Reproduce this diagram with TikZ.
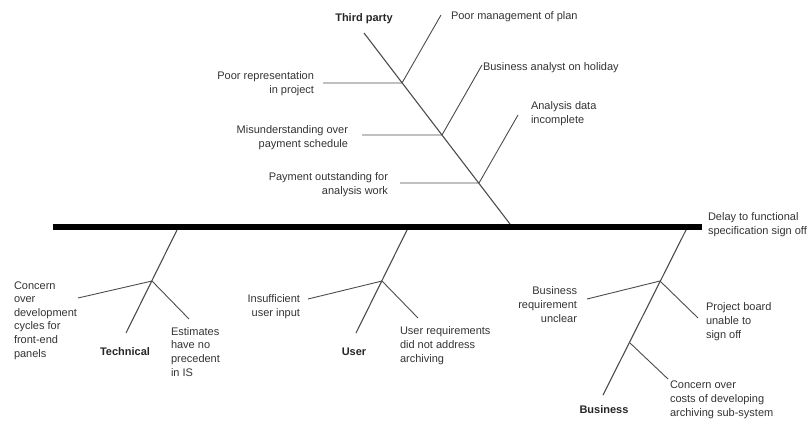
\documentclass[tikz,border=0pt]{standalone}
\usepackage{fontspec}
\setmainfont{Liberation Sans}
\begin{document}
\begin{tikzpicture}[x=1pt,y=-1pt,
  every node/.style={inner sep=0pt,outer sep=0pt,text=black!80,
    font=\fontsize{11}{13.6}\selectfont},
  bone/.style={draw=black!70,line width=1.1pt},
  twig/.style={draw=black!70,line width=0.9pt},
  spine/.style={draw=black,line width=6.5pt},
  cat/.style={font=\fontsize{11}{13.6}\selectfont\bfseries,text=black!85},
  cause/.style={align=left,anchor=base west},
  rcause/.style={align=right,anchor=base east}]
\useasboundingbox (0,0) rectangle (810,424);
% note: multi-line nodes are placed by the baseline of their last line

% spine and effect
\coordinate (s0) at (53,227);
\coordinate (s1) at (702,227);
\draw[spine] (s0) -- (s1);
\node[cause] (effect) at (708,234) {Delay to functional\\specification sign off};

% ---- Third party ----
\coordinate (tpA) at (364,33);
\coordinate (tpB) at (510,224);
\node[cat,anchor=base] (tp) at (364,21) {Third party};
\draw[bone] (tpA) -- (tpB);
\coordinate (tj1) at (402,83);
\coordinate (tj2) at (442,135);
\coordinate (tj3) at (479,183);
\coordinate (tl1) at (323,83);
\coordinate (tl2) at (362,135);
\coordinate (tl3) at (400,183);
\coordinate (tu1) at (441,15);
\coordinate (tu2) at (482,65);
\coordinate (tu3) at (518,115);
\draw[twig] (tl1) -- (tj1) -- (tu1);
\draw[twig] (tl2) -- (tj2) -- (tu2);
\draw[twig] (tl3) -- (tj3) -- (tu3);
\node[cause] (c1) at (451,19) {Poor management of plan};
\node[cause] (c2) at (483,70) {Business analyst on holiday};
\node[cause] (c3) at (531,123) {Analysis data\\incomplete};
\node[rcause] (c4) at (314,93) {Poor representation\\in project};
\node[rcause] (c5) at (348,147) {Misunderstanding over\\payment schedule};
\node[rcause] (c6) at (388,194) {Payment outstanding for\\analysis work};

% ---- Technical ----
\coordinate (teA) at (177,230);
\coordinate (teB) at (126,333);
\draw[bone] (teA) -- (teB);
\node[cat,anchor=base] (te) at (125,355) {Technical};
\coordinate (tej) at (152,281);
\coordinate (tel) at (78,298);
\coordinate (ter) at (189,319);
\draw[twig] (tel) -- (tej) -- (ter);
\node[cause] (c7) at (14,357) {Concern\\over\\development\\cycles for\\front-end\\panels};
\node[cause] (c8) at (171,376) {Estimates\\have no\\precedent\\in IS};

% ---- User ----
\coordinate (usA) at (407,230);
\coordinate (usB) at (356,333);
\draw[bone] (usA) -- (usB);
\node[cat,anchor=base] (us) at (354,355) {User};
\coordinate (usj) at (382,281);
\coordinate (usl) at (308,299);
\coordinate (usr) at (418,318);
\draw[twig] (usl) -- (usj) -- (usr);
\node[rcause] (c9) at (300,316) {Insufficient\\user input};
\node[cause] (c10) at (400,362) {User requirements\\did not address\\archiving};

% ---- Business ----
\coordinate (buA) at (686,230);
\coordinate (buB) at (603,395);
\draw[bone] (buA) -- (buB);
\node[cat,anchor=base] (bu) at (604,413) {Business};
\coordinate (buj1) at (660,281);
\coordinate (bul1) at (587,299);
\coordinate (bur1) at (698,318);
\draw[twig] (bul1) -- (buj1) -- (bur1);
\coordinate (buj2) at (630,343);
\coordinate (bur2) at (668,379);
\draw[twig] (buj2) -- (bur2);
\node[rcause] (c11) at (577,322) {Business\\requirement\\unclear};
\node[cause] (c12) at (706,338) {Project board\\unable to\\sign off};
\node[cause] (c13) at (670,416) {Concern over\\costs of developing\\archiving sub-system};
\end{tikzpicture}
\end{document}
